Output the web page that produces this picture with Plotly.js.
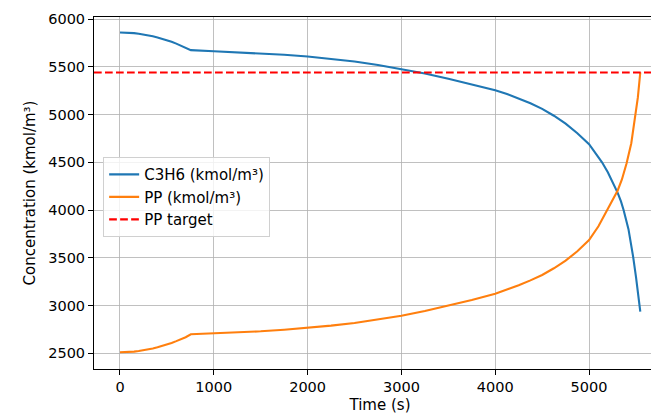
<!DOCTYPE html>
<html>
<head>
<meta charset="utf-8">
<script src="https://cdn.plot.ly/plotly-3.0.1.min.js"></script>
<style>
html, body { margin:0; padding:0; overflow:hidden; background:#fff; }
#chart { width:680px; height:415px; }
</style>
</head>
<body>
<div id="chart"></div>
<script>
// Time (s) for C3H6 series
const timeC3H6 = [0, 50, 100, 150, 200, 250, 300, 350, 400, 450, 500, 550, 600, 650, 700, 755, 1000, 1250, 1500, 1750, 2000, 2250, 2500, 2750, 3000, 3250, 3500, 3750, 4000, 4125, 4250, 4375, 4500, 4625, 4750, 4875, 5000, 5070, 5138, 5200, 5260, 5305, 5340, 5368, 5420, 5450, 5470, 5500, 5525, 5546];
// C3H6 concentration (kmol/m³)
const c3h6 = [5860, 5859, 5857, 5853, 5847, 5840, 5831, 5820, 5808, 5794, 5779, 5762, 5743, 5723, 5702, 5675, 5664, 5653, 5641, 5626, 5608, 5584, 5555, 5520, 5478, 5430, 5375, 5318, 5255, 5215, 5170, 5118, 5060, 4988, 4905, 4805, 4690, 4595, 4500, 4395, 4280, 4180, 4090, 4000, 3800, 3640, 3510, 3300, 3110, 2935];
// Time (s) for PP series
const timePP = [0, 50, 100, 150, 200, 250, 300, 350, 400, 450, 500, 550, 600, 650, 700, 755, 1000, 1250, 1500, 1750, 2000, 2250, 2500, 2750, 3000, 3250, 3500, 3750, 4000, 4125, 4250, 4375, 4500, 4625, 4750, 4875, 5000, 5100, 5170, 5240, 5305, 5350, 5400, 5450, 5495, 5520, 5546];
// PP concentration (kmol/m³)
const pp = [2510, 2511, 2513, 2517, 2523, 2530, 2539, 2550, 2562, 2576, 2591, 2608, 2627, 2647, 2668, 2699, 2708, 2718, 2730, 2746, 2765, 2789, 2817, 2851, 2892, 2942, 2997, 3057, 3122, 3165, 3212, 3263, 3320, 3390, 3470, 3568, 3685, 3830, 3955, 4080, 4205, 4320, 4490, 4700, 4990, 5180, 5441];
// PP target (kmol/m³)
const ppTarget = 5441;

const seriesNames = ['C3H6 (kmol/m³)', 'PP (kmol/m³)', 'PP target'];
const xTicks = [0, 1000, 2000, 3000, 4000, 5000];
const yTicks = [2500, 3000, 3500, 4000, 4500, 5000, 5500, 6000];

const family = 'DejaVu Sans, sans-serif';
const tickFont = {family: family, size: 14.5, color: '#000'};
const textFont = {family: family, size: 15, color: '#000'};

const traces = [
  {x: timeC3H6, y: c3h6, type: 'scatter', mode: 'lines', name: seriesNames[0],
   line: {color: '#1f77b4', width: 2.1}},
  {x: timePP, y: pp, type: 'scatter', mode: 'lines', name: seriesNames[1],
   line: {color: '#ff7f0e', width: 2.1}}
];

const axisCommon = {
  showline: true, linecolor: '#000', linewidth: 1, mirror: true,
  showgrid: true, gridcolor: '#b0b0b0', gridwidth: 0.8,
  zeroline: false, ticks: 'outside', ticklen: 5, tickwidth: 1, tickcolor: '#000',
  tickfont: tickFont, automargin: false
};

const layout = {
  width: 680, height: 415,
  margin: {l: 94, r: 14, t: 17, b: 46},
  paper_bgcolor: '#fff', plot_bgcolor: '#fff',
  font: textFont,
  showlegend: true,
  legend: {
    x: 0.016, y: 0.602, xanchor: 'left', yanchor: 'top',
    bgcolor: 'rgba(255,255,255,0.8)', bordercolor: '#d0d0d0', borderwidth: 1,
    font: textFont, tracegroupgap: 0
  },
  xaxis: Object.assign({}, axisCommon, {
    range: [-277, 5820], tickvals: xTicks,
    title: {text: 'Time (s)', font: textFont, standoff: 5}
  }),
  yaxis: Object.assign({}, axisCommon, {
    range: [2335, 6022], tickvals: yTicks,
    title: {text: 'Concentration (kmol/m³)', font: textFont, standoff: 8}
  }),
  shapes: [{
    type: 'line', xref: 'paper', x0: 0, x1: 1, yref: 'y', y0: ppTarget, y1: ppTarget,
    line: {color: 'red', width: 2.1, dash: '7.7px,3.3px'},
    showlegend: true, name: seriesNames[2]
  }]
};

Plotly.newPlot('chart', traces, layout, {displayModeBar: false, staticPlot: true});
</script>
</body>
</html>
